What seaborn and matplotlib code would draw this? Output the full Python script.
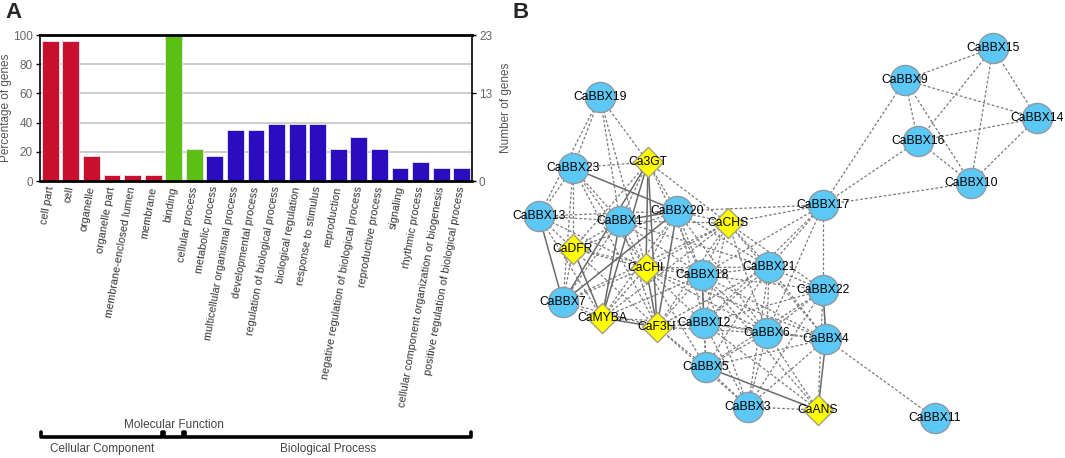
import matplotlib
matplotlib.use("Agg")
import matplotlib.pyplot as plt
import matplotlib.transforms as mtransforms
import numpy as np
import pandas as pd
import seaborn as sns

# ---- panel A: GO annotation ----
go_terms = ["cell part", "cell", "organelle", "organelle part", "membrane-enclosed lumen",
            "membrane", "binding", "cellular process", "metabolic process",
            "multicellular organismal process", "developmental process",
            "regulation of biological process", "biological regulation",
            "response to stimulus", "reproduction",
            "negative regulation of biological process", "reproductive process",
            "signaling", "rhythmic process",
            "cellular component organization or biogenesis",
            "positive regulation of biological process"]
go_percent = [95.7, 95.7, 17.4, 4.3, 4.3, 4.3, 100, 21.7, 17.4, 34.8, 34.8,
              39.1, 39.1, 39.1, 21.7, 30.4, 21.7, 8.7, 13.0, 8.7, 8.7]
go_color_group = ["CC"] * 6 + ["MF"] * 2 + ["BP"] * 13
group_colors = {"CC": "#c8102e", "MF": "#5cbf14", "BP": "#2b0cbf"}
right_ticks = [0, 60, 100]
right_labels = ["0", "13", "23"]
# brace spans (first index, last index, label)
braces = [(0, 5, "Cellular Component"), (6, 6, "Molecular Function"), (7, 20, "Biological Process")]

# ---- panel B: interaction network ----
node_names = ["CaBBX19", "CaBBX23", "Ca3GT", "CaBBX13", "CaBBX1", "CaBBX20", "CaCHS",
              "CaDFR", "CaCHI", "CaBBX18", "CaBBX21", "CaBBX7", "CaMYBA", "CaF3H",
              "CaBBX12", "CaBBX6", "CaBBX22", "CaBBX4", "CaBBX5", "CaBBX3", "CaANS",
              "CaBBX11", "CaBBX17", "CaBBX9", "CaBBX15", "CaBBX14", "CaBBX16", "CaBBX10"]
node_x = [600, 573, 648, 539, 620, 677, 728, 573, 646, 702, 769, 563, 602, 657,
          704, 767, 823, 826, 706, 748, 818, 935, 823, 905, 993, 1037, 918, 971]
node_y = [97, 168, 162, 216, 221, 211, 223, 249, 268, 275, 267, 302, 318, 327,
          323, 333, 290, 339, 367, 407, 410, 418, 205, 80, 48, 118, 141, 183]
flavonoid_genes = ["Ca3GT", "CaCHS", "CaDFR", "CaCHI", "CaMYBA", "CaF3H", "CaANS"]

solid_edges = [("CaBBX4", "CaBBX22"), ("CaBBX4", "CaANS"), ("CaBBX5", "CaANS"),
               ("CaBBX12", "CaBBX18"), ("CaBBX20", "CaBBX1"), ("CaBBX20", "CaBBX23"),
               ("CaBBX20", "CaBBX7"), ("CaBBX20", "CaF3H"), ("Ca3GT", "CaBBX7"),
               ("Ca3GT", "CaMYBA"), ("Ca3GT", "CaF3H"), ("Ca3GT", "CaCHI"),
               ("CaBBX1", "CaMYBA"), ("CaBBX13", "CaBBX7"), ("CaDFR", "CaMYBA"),
               ("CaMYBA", "CaF3H"), ("CaCHI", "CaF3H")]
dashed_edges = [
    ("CaBBX9", "CaBBX15"), ("CaBBX9", "CaBBX14"), ("CaBBX9", "CaBBX16"), ("CaBBX9", "CaBBX10"),
    ("CaBBX9", "CaBBX17"), ("CaBBX15", "CaBBX16"), ("CaBBX15", "CaBBX10"), ("CaBBX15", "CaBBX14"),
    ("CaBBX14", "CaBBX16"), ("CaBBX14", "CaBBX10"), ("CaBBX16", "CaBBX10"), ("CaBBX16", "CaBBX17"),
    ("CaBBX10", "CaBBX17"),
    ("CaBBX17", "CaBBX20"), ("CaBBX17", "CaCHS"), ("CaBBX17", "CaBBX21"), ("CaBBX17", "CaBBX18"),
    ("CaBBX17", "CaBBX22"), ("CaBBX17", "CaBBX6"), ("CaBBX17", "CaBBX12"),
    ("CaBBX4", "CaBBX11"), ("CaBBX4", "CaBBX22"), ("CaBBX4", "CaBBX3"), ("CaBBX4", "CaBBX5"),
    ("CaBBX4", "CaBBX6"), ("CaBBX4", "CaBBX18"), ("CaBBX4", "CaBBX21"), ("CaBBX4", "CaCHS"),
    ("CaBBX4", "CaBBX12"), ("CaBBX4", "CaCHI"),
    ("CaBBX22", "CaANS"), ("CaBBX22", "CaBBX3"), ("CaBBX22", "CaBBX5"), ("CaBBX22", "CaBBX6"),
    ("CaBBX22", "CaBBX21"), ("CaBBX22", "CaBBX18"), ("CaBBX22", "CaCHS"), ("CaBBX22", "CaBBX12"),
    ("CaANS", "CaBBX3"), ("CaANS", "CaBBX6"), ("CaANS", "CaBBX18"), ("CaANS", "CaBBX12"),
    ("CaBBX3", "CaBBX5"), ("CaBBX3", "CaBBX6"), ("CaBBX3", "CaBBX12"), ("CaBBX3", "CaBBX18"),
    ("CaBBX3", "CaBBX21"), ("CaBBX3", "CaF3H"),
    ("CaBBX5", "CaBBX12"), ("CaBBX5", "CaBBX6"), ("CaBBX5", "CaBBX18"), ("CaBBX5", "CaBBX21"),
    ("CaBBX5", "CaF3H"), ("CaBBX5", "CaCHI"),
    ("CaBBX6", "CaBBX12"), ("CaBBX6", "CaBBX18"), ("CaBBX6", "CaBBX21"), ("CaBBX6", "CaCHS"),
    ("CaBBX6", "CaCHI"), ("CaBBX6", "CaF3H"), ("CaBBX6", "CaBBX20"),
    ("CaBBX12", "CaBBX21"), ("CaBBX12", "CaCHI"), ("CaBBX12", "CaF3H"), ("CaBBX12", "CaCHS"),
    ("CaBBX12", "CaBBX20"), ("CaBBX12", "CaMYBA"),
    ("CaBBX21", "CaBBX18"), ("CaBBX21", "CaCHS"), ("CaBBX21", "CaBBX20"), ("CaBBX21", "CaCHI"),
    ("CaBBX21", "CaF3H"), ("CaBBX21", "CaBBX1"),
    ("CaBBX18", "CaCHS"), ("CaBBX18", "CaBBX20"), ("CaBBX18", "CaCHI"), ("CaBBX18", "CaF3H"),
    ("CaBBX18", "CaBBX1"), ("CaBBX18", "Ca3GT"), ("CaBBX18", "CaMYBA"), ("CaBBX18", "CaDFR"),
    ("CaCHS", "CaBBX20"), ("CaCHS", "Ca3GT"), ("CaCHS", "CaCHI"), ("CaCHS", "CaF3H"),
    ("CaCHS", "CaBBX1"), ("CaCHS", "CaMYBA"), ("CaCHS", "CaBBX7"),
    ("CaBBX20", "Ca3GT"), ("CaBBX20", "CaBBX13"), ("CaBBX20", "CaCHI"), ("CaBBX20", "CaMYBA"),
    ("CaBBX20", "CaDFR"),
    ("Ca3GT", "CaBBX19"), ("Ca3GT", "CaBBX23"), ("Ca3GT", "CaBBX1"), ("Ca3GT", "CaDFR"),
    ("CaBBX1", "CaBBX13"), ("CaBBX1", "CaBBX23"), ("CaBBX1", "CaBBX19"), ("CaBBX1", "CaCHI"),
    ("CaBBX1", "CaF3H"), ("CaBBX1", "CaDFR"), ("CaBBX1", "CaBBX7"),
    ("CaBBX19", "CaBBX23"), ("CaBBX19", "CaBBX13"), ("CaBBX19", "CaCHI"),
    ("CaBBX23", "CaBBX13"), ("CaBBX23", "CaDFR"), ("CaBBX23", "CaBBX7"), ("CaBBX23", "CaCHI"),
    ("CaBBX23", "CaF3H"),
    ("CaBBX13", "CaDFR"), ("CaBBX13", "CaCHI"), ("CaBBX13", "CaMYBA"),
    ("CaDFR", "CaBBX7"), ("CaDFR", "CaCHI"), ("CaDFR", "CaF3H"),
    ("CaBBX7", "CaCHI"), ("CaBBX7", "CaF3H"), ("CaBBX7", "CaMYBA"),
    ("CaMYBA", "CaCHI"),
]

sns.set_theme(style="white")
plt.rcParams["font.family"] = ["Liberation Sans", "DejaVu Sans"]

W, H = 1065, 458
fig = plt.figure(figsize=(W / 100, H / 100), dpi=100)

# ------------- panel A -------------
ax = fig.add_axes([40 / W, 1 - 181 / H, 432 / W, 146 / H])
go = pd.DataFrame({"term": go_terms, "percent": go_percent, "group": go_color_group})
sns.barplot(data=go, x="term", y="percent", hue="group", palette=group_colors,
            dodge=False, width=0.82, saturation=1, legend=False, ax=ax,
            edgecolor="#e8e8f0", linewidth=0.6)
ax.set_xlim(-0.5, len(go_terms) - 0.5)
ax.set_ylim(0, 100)
ax.set_yticks([0, 20, 40, 60, 80, 100])
ax.yaxis.grid(True, color="#c9c9c9", lw=1.3)
ax.set_axisbelow(True)
ax.set_xticks(range(len(go_terms)))
ax.set_xticklabels(go_terms, rotation=80, ha="right", va="center",
                   rotation_mode="anchor", fontsize=7.8, color="#333333")
ax.set_xticks(np.arange(-0.5, len(go_terms), 1), minor=True)
ax.tick_params(axis="x", which="major", length=0, pad=4)
ax.tick_params(axis="x", which="minor", length=3, width=1.2, color="black", direction="out")
ax.tick_params(axis="y", length=3, width=1, color="black", labelsize=8.5,
               labelcolor="#666666", pad=2, left=True)
ax.set_xlabel("")
ax.set_ylabel("Percentage of genes", fontsize=8.5, color="#555555")
ax.yaxis.set_label_coords(-28 / 432, 0.5)
for side in ["top", "bottom"]:
    ax.spines[side].set_linewidth(2)
    ax.spines[side].set_color("black")
for side in ["left", "right"]:
    ax.spines[side].set_linewidth(1.2)
    ax.spines[side].set_color("black")

ax_r = ax.twinx()
ax_r.set_ylim(0, 100)
ax_r.set_yticks(right_ticks)
ax_r.set_yticklabels(right_labels)
ax_r.tick_params(axis="y", length=3, width=1, color="black", labelsize=8.5,
                 labelcolor="#666666", pad=2, right=True)
ax_r.set_ylabel("Number of genes", fontsize=8.5, color="#555555", labelpad=6)
for sp in ax_r.spines.values():
    sp.set_visible(False)

# braces under the x labels
trans = mtransforms.blended_transform_factory(ax.transData, fig.transFigure)
yb = 1 - 437 / H
hk = 5 / H
for i0, i1, name in braces:
    x0, x1 = i0 - 0.45, i1 + 0.45
    ax.plot([x0, x0, x1, x1], [yb + hk, yb, yb, yb + hk], color="black", lw=2.6,
            transform=trans, clip_on=False, solid_capstyle="round", solid_joinstyle="round")
    xm = (x0 + x1) / 2
    if name == "Molecular Function":
        ax.text(xm, 1 - 425 / H, name, transform=trans, ha="center", va="center",
                fontsize=8.5, color="#444444")
    else:
        ax.text(xm, 1 - 449 / H, name, transform=trans, ha="center", va="center",
                fontsize=8.5, color="#444444")

# ------------- panel B -------------
axb = fig.add_axes([500 / W, 0, 565 / W, 1])
axb.set_xlim(500, 1065)
axb.set_ylim(H, 0)
axb.axis("off")

nodes = pd.DataFrame({"name": node_names, "x": node_x, "y": node_y})
nodes["kind"] = np.where(nodes["name"].isin(flavonoid_genes), "gene", "bbx")
pos = {n: (x, y) for n, x, y in zip(node_names, node_x, node_y)}

for a, b in dashed_edges:
    axb.plot([pos[a][0], pos[b][0]], [pos[a][1], pos[b][1]], color="#7a7a7a",
             lw=0.9, linestyle=(0, (2.2, 1.6)), zorder=1)
for a, b in solid_edges:
    axb.plot([pos[a][0], pos[b][0]], [pos[a][1], pos[b][1]], color="#6a6a6a",
             lw=1.1, zorder=1.5)

sns.scatterplot(data=nodes[nodes["kind"] == "bbx"], x="x", y="y", marker="o", s=470,
                color="#5bc8f5", edgecolor="#8f9aa0", linewidth=1, ax=axb, zorder=3)
sns.scatterplot(data=nodes[nodes["kind"] == "gene"], x="x", y="y", marker="D", s=235,
                color="#ffff00", edgecolor="#a0a080", linewidth=1, ax=axb, zorder=3)
axb.set_xlabel("")
axb.set_ylabel("")
for _, r in nodes.iterrows():
    axb.text(r["x"], r["y"], r["name"], ha="center", va="center", fontsize=8.7,
             color="black", zorder=4)

fig.text(5 / W, 1 - 2 / H, "A", fontsize=16, fontweight="bold", va="top", ha="left")
fig.text(512 / W, 1 - 2 / H, "B", fontsize=16, fontweight="bold", va="top", ha="left")

fig.savefig("out.png", dpi=100)
